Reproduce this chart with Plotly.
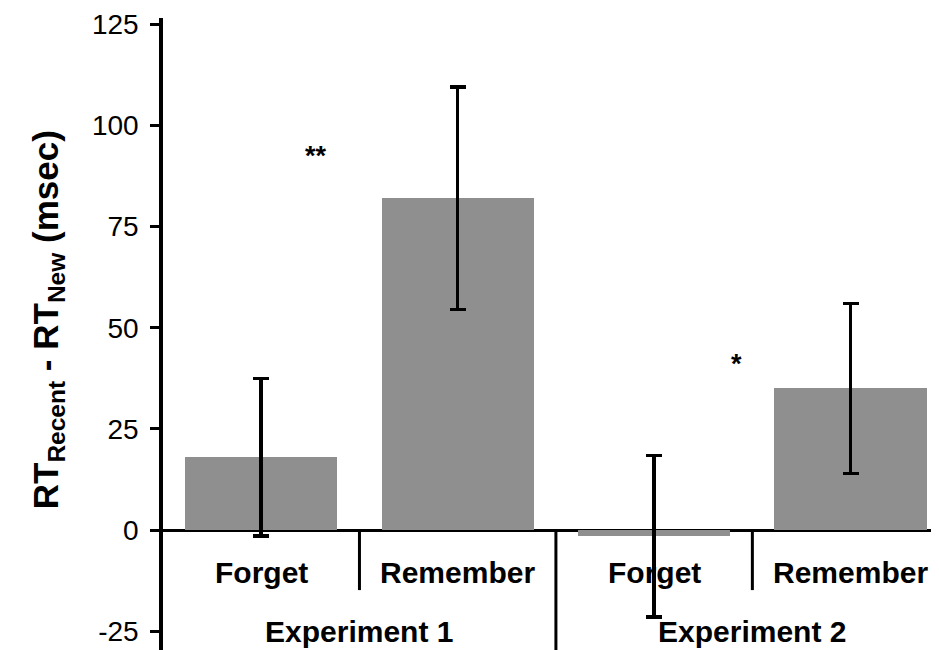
import plotly.graph_objects as go

# ---- data ----
experiments = ["Experiment 1", "Experiment 2"]
conditions = ["Forget", "Remember", "Forget", "Remember"]
experiment_of_bar = [0, 0, 1, 1]
means = [18, 82, -1.5, 35]
errors = [19.5, 27.5, 20, 21]
y_ticks = [-25, 0, 25, 50, 75, 100, 125]
y_tick_labels = ["-25", "0", "25", "50", "75", "100", "125"]
sig_labels = ["**", "*"]
sig_x = [0.28, 2.42]
sig_y = [92.5, 41]

FONT = "Arial, Liberation Sans, Helvetica, sans-serif"
xpos = list(range(len(conditions)))

fig = go.Figure()
fig.add_trace(go.Bar(
    x=xpos, y=means, width=0.775,
    marker=dict(color="#8f8f8f", line=dict(width=0)),
    error_y=dict(type="data", array=errors, visible=True,
                 color="black", thickness=3.5, width=8),
    showlegend=False, hoverinfo="skip",
))

annotations = []
# condition labels
for i, c in enumerate(conditions):
    annotations.append(dict(x=xpos[i], y=-10.4, xref="x", yref="y", text=f"<b>{c}</b>",
                            showarrow=False, xanchor="center", yanchor="middle",
                            font=dict(family=FONT, size=30, color="black")))
# experiment labels
for g, e in enumerate(experiments):
    idx = [i for i, k in enumerate(experiment_of_bar) if k == g]
    cx = sum(xpos[i] for i in idx) / len(idx)
    annotations.append(dict(x=cx, y=-25.0, xref="x", yref="y", text=f"<b>{e}</b>",
                            showarrow=False, xanchor="center", yanchor="middle",
                            font=dict(family=FONT, size=30, color="black")))
# significance stars
for t, sx, sy in zip(sig_labels, sig_x, sig_y):
    annotations.append(dict(x=sx, y=sy, xref="x", yref="y", text=f"<b>{t}</b>",
                            showarrow=False, xanchor="center", yanchor="middle",
                            font=dict(family=FONT, size=27, color="black")))
# y title
annotations.append(dict(x=-0.148, y=0.522, xref="paper", yref="paper",
                        text="<b>RT<sub>Recent</sub> - RT<sub>New</sub> (msec)</b>",
                        textangle=-90, showarrow=False,
                        xanchor="center", yanchor="middle",
                        font=dict(family=FONT, size=35, color="black")))

shapes = []
# separators between conditions (short) and experiments (long)
for i in range(len(conditions) - 1):
    xsep = (xpos[i] + xpos[i + 1]) / 2
    long_sep = experiment_of_bar[i] != experiment_of_bar[i + 1]
    shapes.append(dict(type="line", xref="x", yref="y", x0=xsep, x1=xsep,
                       y0=0, y1=-29.6 if long_sep else -14.8,
                       line=dict(color="black", width=3)))

fig.update_layout(
    width=931, height=642,
    margin=dict(l=155, r=0, t=10, b=0, autoexpand=False),
    plot_bgcolor="white", paper_bgcolor="white",
    xaxis=dict(range=[-0.5, 3.45], showticklabels=False, showgrid=False,
               zeroline=False, showline=False, ticks="", automargin=False),
    yaxis=dict(range=[-29.6, 126.5], tickvals=y_ticks, ticktext=y_tick_labels,
               showgrid=False, automargin=False,
               zeroline=True, zerolinecolor="black", zerolinewidth=3,
               showline=True, linecolor="black", linewidth=3.5,
               ticks="outside", ticklen=9, tickwidth=3, tickcolor="black",
               ticklabelstandoff=6,
               tickfont=dict(family=FONT, size=28, color="black")),
    annotations=annotations, shapes=shapes,
    bargap=0,
)

fig.write_html("out.html")
